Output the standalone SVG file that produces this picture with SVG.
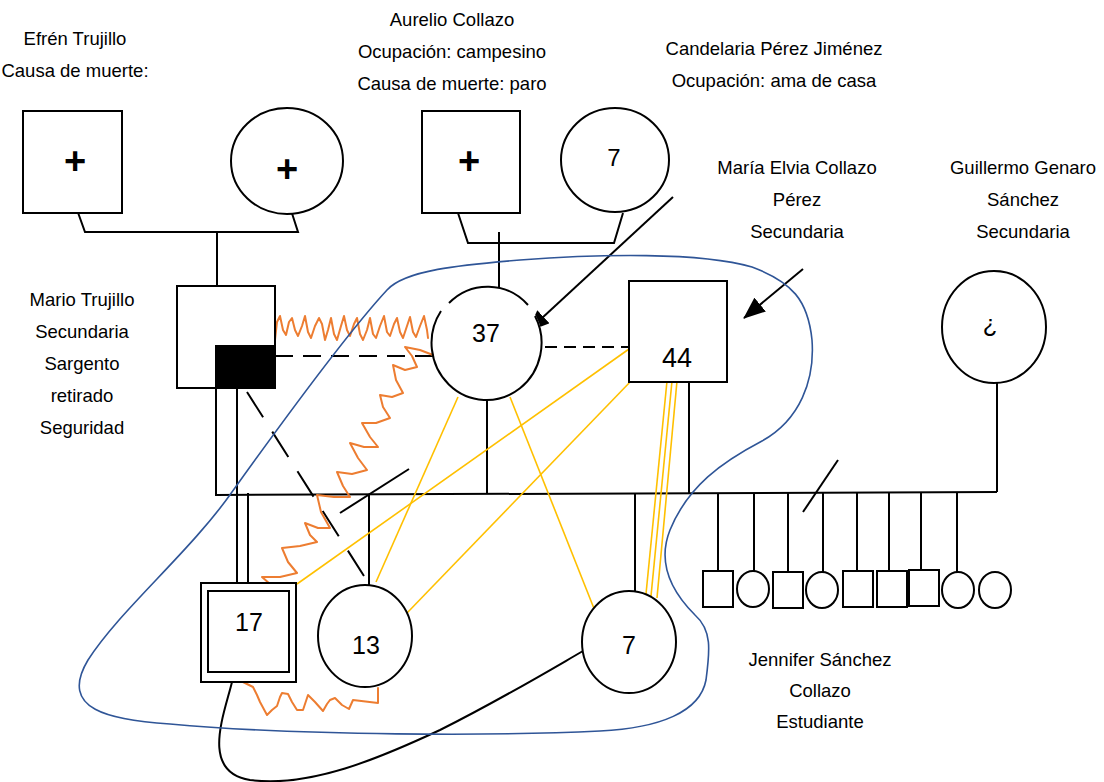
<svg xmlns="http://www.w3.org/2000/svg" width="1104" height="782" viewBox="0 0 1104 782">
<style>
.s{fill:#fff;stroke:#000;stroke-width:2}
.n{fill:none;stroke:#000;stroke-width:2}
.t{font-family:"Liberation Sans",Arial,sans-serif;font-size:18.5px;fill:#000;text-anchor:middle}
.num{font-family:"Liberation Sans",Arial,sans-serif;font-size:25px;fill:#000;text-anchor:middle}
.plus{font-family:"Liberation Sans",Arial,sans-serif;font-size:38px;font-weight:bold;fill:#000;text-anchor:middle}
.gold{fill:none;stroke:#FFC000;stroke-width:1.6}
.orange{fill:none;stroke:#ED7D31;stroke-width:2;stroke-linejoin:round;stroke-linecap:round}
.blue{fill:none;stroke:#2F5597;stroke-width:1.6}
</style>
<defs>
<marker id="arr" markerUnits="userSpaceOnUse" markerWidth="22" markerHeight="18" refX="21" refY="9" orient="auto">
<path d="M0,0 L22,9 L0,18 z" fill="#000"/>
</marker>
</defs>

<g id="labels">
<text class="t" x="75" y="45">Efrén Trujillo</text>
<text class="t" x="75" y="77">Causa de muerte:</text>
<text class="t" x="452" y="26">Aurelio Collazo</text>
<text class="t" x="452" y="58">Ocupación: campesino</text>
<text class="t" x="452" y="90">Causa de muerte: paro</text>
<text class="t" x="774" y="55">Candelaria Pérez Jiménez</text>
<text class="t" x="774" y="87">Ocupación: ama de casa</text>
<text class="t" x="797" y="174">María Elvia Collazo</text>
<text class="t" x="797" y="206">Pérez</text>
<text class="t" x="797" y="238">Secundaria</text>
<text class="t" x="1023" y="174">Guillermo Genaro</text>
<text class="t" x="1023" y="206">Sánchez</text>
<text class="t" x="1023" y="238">Secundaria</text>
<text class="t" x="82" y="306">Mario Trujillo</text>
<text class="t" x="82" y="338">Secundaria</text>
<text class="t" x="82" y="370">Sargento</text>
<text class="t" x="82" y="402">retirado</text>
<text class="t" x="82" y="434">Seguridad</text>
<text class="t" x="820" y="666">Jennifer Sánchez</text>
<text class="t" x="820" y="697">Collazo</text>
<text class="t" x="820" y="728">Estudiante</text>
</g>

<g id="connectors">
<polyline class="n" points="76,207 85,232 298,232 289,204"/>
<line class="n" x1="217" y1="232" x2="217" y2="313"/>
<polyline class="n" points="458,213 468,243 614,243 623,213"/>
<line class="n" x1="499" y1="232" x2="499" y2="313"/>
<line class="n" x1="216" y1="495" x2="997" y2="492"/>
<line class="n" x1="216" y1="388" x2="216" y2="496"/>
<line class="n" x1="237" y1="388" x2="237" y2="583"/>
<line class="n" x1="248" y1="493" x2="248" y2="583"/>
<line class="n" x1="369" y1="495" x2="369" y2="585"/>
<line class="n" x1="487" y1="401" x2="487" y2="494"/>
<line class="n" x1="689" y1="383" x2="689" y2="494"/>
<line class="n" x1="635" y1="494" x2="635" y2="591"/>
<line class="n" x1="997" y1="383" x2="997" y2="492"/>
<line class="n" x1="718" y1="493" x2="718" y2="571"/>
<line class="n" x1="754" y1="493" x2="754" y2="571"/>
<line class="n" x1="788" y1="493" x2="788" y2="572"/>
<line class="n" x1="823" y1="493" x2="823" y2="572"/>
<line class="n" x1="857" y1="493" x2="857" y2="571"/>
<line class="n" x1="889" y1="493" x2="889" y2="571"/>
<line class="n" x1="921" y1="493" x2="921" y2="570"/>
<line class="n" x1="957" y1="493" x2="957" y2="572"/>
<line class="n" x1="409" y1="469" x2="340" y2="513"/>
<line class="n" x1="838" y1="460" x2="803" y2="512"/>
<line class="n" x1="275" y1="356" x2="433" y2="356" stroke-dasharray="18,10"/>
<line class="n" x1="545" y1="347" x2="629" y2="347" stroke-dasharray="12,7"/>
<line class="n" x1="247" y1="392" x2="364" y2="576" stroke-dasharray="30,17"/>
<line class="n" x1="673" y1="197" x2="528" y2="331" marker-end="url(#arr)"/>
<line class="n" x1="803" y1="269" x2="744" y2="318" marker-end="url(#arr)"/>
<line class="gold" x1="458" y1="397" x2="376" y2="582"/>
<line class="gold" x1="510" y1="397" x2="595" y2="611"/>
<line class="gold" x1="629" y1="349" x2="297" y2="584"/>
<line class="gold" x1="632" y1="380" x2="407" y2="613"/>
<line class="gold" x1="667" y1="381" x2="646" y2="594"/>
<line class="gold" x1="672" y1="381" x2="651" y2="596"/>
<line class="gold" x1="677" y1="381" x2="657" y2="598"/>
<polyline class="orange" points="275,340 277,322 280,316 283,330 286,335 289,322 292,318 295,330 298,336 302,326 305,316 308,332 311,338 315,326 319,318 322,324 325,340 328,330 331,318 334,334 337,340 341,326 344,316 347,330 350,336 354,324 357,318 360,334 363,340 367,330 370,318 373,334 376,338 380,326 384,316 387,332 390,336 394,324 397,318 400,332 403,338 407,326 410,317 413,332 416,337 420,326 424,316 427,330 428,338"/>
<polyline class="orange" points="433,355 420,350 405,347 412,356 417,367 405,370 393,365 396,380 403,393 392,397 380,395 383,407 390,418 376,423 362,423 370,437 378,447 364,447 350,443 358,458 367,470 352,474 337,472 343,486 350,497 334,497 317,495 321,512 330,528 318,528 305,523 310,535 317,542 300,546 282,548 288,562 297,573 280,577 262,577 270,584 278,593"/>
<polyline class="orange" points="243,682 253,687 257,695 260,702 267,715 272,710 277,706 280,697 282,693 288,694 292,702 297,710 303,710 308,695 315,702 323,711 327,704 330,700 335,698 342,705 349,709 353,700 378,703 378,688"/>
<path class="n" d="M232,682 C224,715 200,772 250,780 C310,788 380,758 440,730 C500,700 550,670 583,651"/>
<path class="blue" d="M387,290 C350,330 280,425 232,492 C190,552 120,610 88,660 C58,710 110,720 170,724 C300,736 500,736 600,731 C660,728 700,712 706,680 C710,650 712,630 695,615 C668,588 658,560 670,530 C688,486 722,462 762,441 C800,420 815,380 812,340 C808,300 792,282 752,267 C700,252 600,254 520,260 C460,265 405,270 387,290 Z"/>
</g>

<g id="efren">
<rect class="s" x="23" y="111" width="99" height="102"/>
<text class="plus" x="75" y="174">+</text>
</g>
<g id="efren-wife">
<ellipse class="s" cx="287" cy="161" rx="56" ry="53"/>
<text class="plus" x="287" y="182">+</text>
</g>
<g id="aurelio">
<rect class="s" x="422" y="111" width="98" height="102"/>
<text class="plus" x="469" y="174">+</text>
</g>
<g id="candelaria">
<ellipse class="s" cx="615" cy="160" rx="54" ry="52"/>
<text class="num" x="614" y="166" style="font-size:24px">7</text>
</g>
<g id="mario">
<rect class="s" x="177" y="286" width="98" height="102"/>
<rect x="216" y="346" width="59" height="42" fill="#000" stroke="#000" stroke-width="2"/>
</g>
<g id="maria">
<path fill="#fff" stroke="none" d="M433,344 A55,57 0 1 0 543,344 A55,57 0 1 0 433,344 Z"/>
<path class="n" d="M449,303 A55,57 0 0 1 528,305"/>
<path class="n" d="M535,316 A55,57 0 1 1 441,311"/>
<text class="num" x="486" y="342">37</text>
</g>
<g id="guillermo-44">
<rect class="s" x="629" y="281" width="98" height="101"/>
<text class="num" x="677" y="367" style="font-size:27px">44</text>
</g>
<g id="guillermo">
<ellipse class="s" cx="994" cy="327" rx="52" ry="56"/>
<text class="t" x="990" y="332" style="font-size:24px">¿</text>
</g>
<g id="son17">
<rect class="s" x="201" y="583" width="95" height="99"/>
<rect class="s" x="208" y="591" width="81" height="81"/>
<text class="num" x="249" y="631">17</text>
</g>
<g id="daughter13">
<ellipse class="s" cx="365" cy="636" rx="47" ry="51"/>
<text class="num" x="366" y="654">13</text>
</g>
<g id="daughter7">
<ellipse class="s" cx="629" cy="642" rx="47" ry="51"/>
<text class="num" x="629" y="654">7</text>
</g>
<g id="c1"><rect class="s" x="703" y="571" width="30" height="36"/></g>
<g id="c2"><ellipse class="s" cx="753" cy="589" rx="16" ry="18"/></g>
<g id="c3"><rect class="s" x="773" y="572" width="30" height="36"/></g>
<g id="c4"><ellipse class="s" cx="822" cy="590" rx="16" ry="18"/></g>
<g id="c5"><rect class="s" x="843" y="571" width="30" height="36"/></g>
<g id="c6"><rect class="s" x="877" y="571" width="30" height="36"/></g>
<g id="c7"><rect class="s" x="909" y="570" width="30" height="36"/></g>
<g id="c8"><ellipse class="s" cx="958" cy="590" rx="16" ry="18"/></g>
<g id="c9"><ellipse class="s" cx="995" cy="590" rx="16" ry="18"/></g>
</svg>
